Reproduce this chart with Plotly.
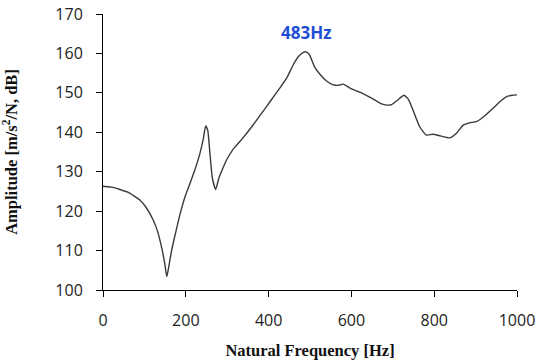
import plotly.graph_objects as go

# Frequency response function: natural frequency [Hz] vs amplitude [dB]
freq_hz = [0, 10, 20, 41, 60, 89, 105, 121, 132, 142, 149, 154, 159, 165, 172,
           180, 188, 198, 210, 222, 234, 242, 248, 253, 258, 264, 272, 280,
           290, 299, 315, 335, 358, 383, 405, 427, 445, 459, 472, 483, 490,
           498, 512, 525, 540, 555, 568, 580, 600, 620, 650, 673, 685, 697,
           712, 727, 738, 749, 765, 781, 797, 815, 838, 855, 870, 885, 902,
           920, 942, 958, 974, 988, 1000]
amp_db = [126.3, 126.2, 126.1, 125.5, 124.8, 122.8, 120.8, 117.8, 114.8, 110.6,
          106.8, 103.4, 106.0, 109.6, 113.0, 116.6, 120.0, 123.6, 127.0, 130.5,
          134.6, 138.2, 141.6, 140.5, 135.0, 128.5, 125.5, 128.4, 131.0, 133.1,
          135.8, 138.2, 141.2, 144.8, 148.0, 151.2, 154.0, 157.0, 159.2, 160.2,
          160.4, 159.8, 156.4, 154.6, 153.0, 152.1, 151.9, 152.2, 151.0, 150.2,
          148.6, 147.2, 146.9, 147.0, 148.2, 149.4, 148.3, 145.6, 141.4, 139.3,
          139.5, 139.1, 138.6, 139.9, 141.8, 142.4, 142.7, 144.0, 146.1, 147.7,
          149.0, 149.4, 149.5]

x_ticks = [0, 200, 400, 600, 800, 1000]
y_ticks = [100, 110, 120, 130, 140, 150, 160, 170]

peak_label = "483Hz"
peak_label_pos = (490, 165.3)

fig = go.Figure()
fig.add_trace(go.Scatter(
    x=freq_hz, y=amp_db, mode="lines",
    line=dict(color="#3a3a3a", width=1.4, shape="spline", smoothing=0.5),
    showlegend=False, hoverinfo="skip",
))

fig.add_annotation(
    x=peak_label_pos[0], y=peak_label_pos[1], text="<b>%s</b>" % peak_label,
    showarrow=False, font=dict(family="Open Sans", size=17, color="#1f4fd6"),
)

tick_font = dict(family="Open Sans", size=16, color="#222222")
title_font = dict(family="Liberation Serif", size=16.5, color="#111111")

fig.update_xaxes(
    range=[0, 1000], tickvals=x_ticks, ticks="outside", ticklen=6,
    tickcolor="#000000", showline=True, linecolor="#000000", linewidth=1,
    showgrid=False, zeroline=False, tickfont=tick_font,
    ticklabelstandoff=10, automargin=False,
    title=dict(text="<b>Natural Frequency [Hz]</b>", font=title_font, standoff=14),
)
fig.update_yaxes(
    range=[100, 170], tickvals=y_ticks, ticks="outside", ticklen=6,
    tickcolor="#000000", showline=True, linecolor="#000000", linewidth=1,
    showgrid=False, zeroline=False, tickfont=tick_font,
    ticklabelstandoff=10, automargin=False,
    title=dict(text="<b>Amplitude [m/s<sup>2</sup>/N, dB]</b>", font=title_font, standoff=33),
)

fig.update_layout(
    width=536, height=363,
    margin=dict(l=103, r=19, t=14, b=73),
    paper_bgcolor="#ffffff", plot_bgcolor="#ffffff",
)

fig.write_html("out.html")
